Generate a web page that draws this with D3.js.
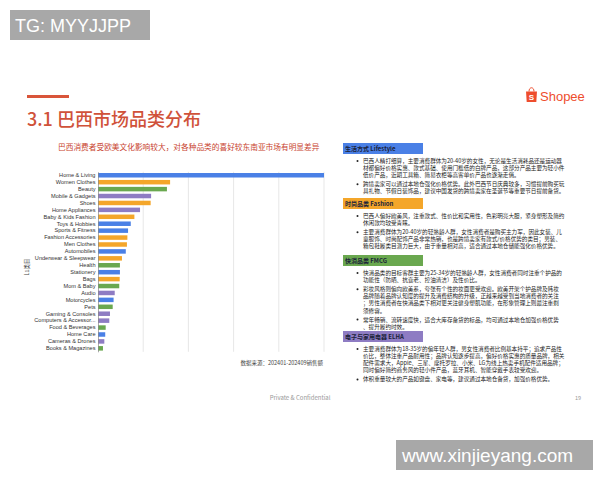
<!DOCTYPE html>
<html><head><meta charset="utf-8">
<script src="https://cdn.jsdelivr.net/npm/d3@7"></script>
<style>body{margin:0;background:#fff}svg{display:block}</style>
</head><body>
<svg id="c" width="600" height="480"></svg>
<script>
const categories = ["Home & Living","Women Clothes","Beauty","Mobile & Gadgets","Shoes","Home Appliances","Baby & Kids Fashion","Toys & Hobbies","Sports & Fitness","Fashion Accessories","Men Clothes","Automobiles","Underwear & Sleepwear","Health","Stationery","Bags","Mom & Baby","Audio","Motorcycles","Pets","Gaming & Consoles","Computers & Accessor...","Food & Beverages","Home Care","Cameras & Drones","Books & Magazines"];
const values = [100,31.9,30.5,23.5,23.3,18.6,16.1,14.5,13.3,13.0,12.8,12.3,10.6,9.7,9.7,9.6,9.4,7.4,6.9,6.5,5.3,5.0,3.4,3.2,2.8,2.2];
const groups = ["Lifestyle","Fashion","FMCG","ELHA","Fashion","ELHA","Fashion","Lifestyle","Lifestyle","Fashion","Fashion","Lifestyle","Fashion","FMCG","Lifestyle","Fashion","FMCG","ELHA","Lifestyle","FMCG","ELHA","ELHA","FMCG","Lifestyle","ELHA","FMCG"];
const groupNames = ["Lifestyle","Fashion","FMCG","ELHA"];
const groupColors = ["#4a80e6","#f4a62a","#6aa84f","#8e7cc3"];
const gridTicks = [0,20,40,60,80,100];

const sections = [
  {group:"Lifestyle", title:"生活方式 Lifestyle", bullets:[
    ["巴西人精打细算，主要消费群体为20-40岁的女性，无论是生活消耗品还是运动器","材都偏好价格实惠、款式基础、使用门槛低的白牌产品，这部分产品主要为轻小件","低价产品，近期工具箱、简易衣柜等高客单价产品也逐渐走俏。"],
    ["跨境卖家可以通过本地仓强化价格优势。此外巴西节日庆典较多，习惯提前购买玩","具礼物、节假日装饰品，建议中国发货的跨境卖家在圣诞节等重要节日提前备货。"]]},
  {group:"Fashion", title:"时尚品类 Fashion", bullets:[
    ["巴西人偏好欧美风，注重款式、性价比和实用性，色彩明亮大胆，紧身塑形及简约","休闲款均较受青睐。"],
    ["主要消费群体为20-40岁的轻熟龄人群，女性消费者是购买主力军，因此女装、儿","童服饰、时尚配饰产品非常热销，也是跨境卖家有款式/价格优势的类目；男装、","箱包鞋履类目潜力巨大，由于重量相对高，适合通过本地仓储能强化价格优势。"]]},
  {group:"FMCG", title:"快消品类 FMCG", bullets:[
    ["快消品类的目标客群主要为25-34岁的轻熟龄人群，女性消费者同时注重个护品的","功能性（防晒、抗衰老、控油清洁）及性价比。"],
    ["彩妆风格则偏向欧美系，夸张有个性的妆面更受欢迎。欧美开架个护品牌及韩妆","品牌随着品牌认知度的提升及消费结构的升级，正越来越受到当地消费者的关注","；男性消费者在快消品类下相对更关注健身塑肌功能，在形象管理上则最注重剃","须修容。"],
    ["常年畅销、流转速度快，适合大库存备货的标品，均可通过本地仓加强价格优势","、提升履约时效。"]]},
  {group:"ELHA", title:"电子与家用电器 ELHA", bullets:[
    ["主要消费群体为18-35岁的偏年轻人群，男女性消费者比例基本持平；追求产品性","价比，整体注重产品耐用性；品牌认知逐步提高，偏好价格实惠的质量品牌，相关","配件需求大，Apple、三星、摩托罗拉、小米、LG为线上热卖手机配件适用品牌；","同时偏好简约商务风的轻小件产品，蓝牙耳机、智能穿戴手表较受欢迎。"],
    ["体积重量较大的产品如键盘、家电等，建议通过本地仓备货，加强价格优势。"]]}
];
const headerTops = [143,198,255,331];

const svg = d3.select("#c");
const cjk = "'Noto Sans CJK SC','Noto Sans',sans-serif";
const latin = "'Liberation Sans',Arial,sans-serif";
const color = d3.scaleOrdinal(groupNames, groupColors);

// top-left watermark box
svg.append("rect").attr("x",10).attr("y",10).attr("width",140).attr("height",30).attr("fill","#a8a8a8");
svg.append("text").attr("x",15).attr("y",32).attr("fill","#fff").attr("font-family",latin).attr("font-size",18).text("TG: MYYJJPP");
// bottom-right box
svg.append("rect").attr("x",396).attr("y",440).attr("width",197).attr("height",30).attr("fill","#a8a8a8");
svg.append("text").attr("x",402).attr("y",462).attr("fill","#fff").attr("font-family",latin).attr("font-size",19).text("www.xinjieyang.com");

// title
svg.append("rect").attr("x",27).attr("y",95).attr("width",42).attr("height",3).attr("fill","#d9553a");
svg.append("text").attr("x",27).attr("y",126).attr("fill","#d0523a").attr("font-family",cjk).attr("font-size",18).attr("font-weight",500).text("3.1 巴西市场品类分布");
svg.append("text").attr("x",58).attr("y",150).attr("fill","#c8432f").attr("font-family",cjk).attr("font-size",7.7).text("巴西消费者受欧美文化影响较大，对各种品类的喜好较东南亚市场有明显差异");

// Shopee logo
const lg = svg.append("g").attr("transform","translate(526,87)");
lg.append("path").attr("d","M0,4.5 L11,4.5 L10.3,15 L0.7,15 Z").attr("fill","#ee4d2d");
lg.append("path").attr("d","M3,4.5 C3,-0.5 8,-0.5 8,4.5").attr("fill","none").attr("stroke","#ee4d2d").attr("stroke-width",1);
lg.append("text").attr("x",5.5).attr("y",13).attr("text-anchor","middle").attr("fill","#fff").attr("font-family",latin).attr("font-size",8).attr("font-weight","bold").text("S");
svg.append("text").attr("x",540).attr("y",101).attr("fill","#ee4d2d").attr("font-family",latin).attr("font-size",13).text("Shopee");

// chart
const x = d3.scaleLinear().domain([0,100]).range([98,324]);
const y = d3.scaleBand().domain(categories).range([171.8,351.8]).paddingInner(0.35).paddingOuter(0.175);
svg.append("g").selectAll("line").data(gridTicks.slice(1)).join("line")
  .attr("x1",d=>x(d)).attr("x2",d=>x(d)).attr("y1",171.8).attr("y2",351.8)
  .attr("stroke","#dcdcdc").attr("stroke-width",0.7);
svg.append("g").selectAll("rect").data(categories).join("rect")
  .attr("x",x(0)).attr("y",d=>y(d)).attr("height",y.bandwidth())
  .attr("width",(d,i)=>x(values[i])-x(0)).attr("fill",(d,i)=>color(groups[i]));
const ax = svg.append("g").attr("transform",`translate(${x(0)},0)`).call(d3.axisLeft(y).tickSize(0).tickPadding(2.5));
ax.select(".domain").attr("stroke","#888").attr("stroke-width",0.7);
ax.selectAll("text").attr("font-family",latin).attr("font-size",5.6).attr("fill","#333");
svg.append("text").attr("transform","translate(29,267) rotate(-90)").attr("text-anchor","middle")
  .attr("font-family",cjk).attr("font-size",5.5).attr("fill","#444").text("L1类目");
svg.append("text").attr("x",323).attr("y",365).attr("text-anchor","end").attr("font-family",cjk).attr("font-size",5.5).attr("fill","#444").text("数据来源：202401-202409销售额");

// right panel
sections.forEach((s,si)=>{
  const top = headerTops[si];
  svg.append("rect").attr("x",343).attr("y",top).attr("width",80).attr("height",11).attr("fill",color(s.group));
  svg.append("text").attr("x",345).attr("y",top+7.8).attr("font-family",cjk).attr("font-size",6).attr("font-weight","bold").attr("fill","#1b1f3a").text(s.title);
  let cy = top + 18;
  s.bullets.forEach(b=>{
    svg.append("circle").attr("cx",357.5).attr("cy",cy).attr("r",1).attr("fill","#222");
    b.forEach(line=>{
      svg.append("text").attr("x",363).attr("y",cy+2).attr("font-family",cjk).attr("font-size",5.6).attr("fill","#222").text(line);
      cy += 7.1;
    });
    cy += 2;
  });
});

// footer
svg.append("text").attr("x",300).attr("y",400).attr("text-anchor","middle").attr("font-family",cjk).attr("font-size",6).attr("fill","#999").text("Private & Confidential");
svg.append("text").attr("x",578).attr("y",400).attr("text-anchor","middle").attr("font-family",cjk).attr("font-size",5.5).attr("fill","#999").text("19");
</script>
</body></html>
